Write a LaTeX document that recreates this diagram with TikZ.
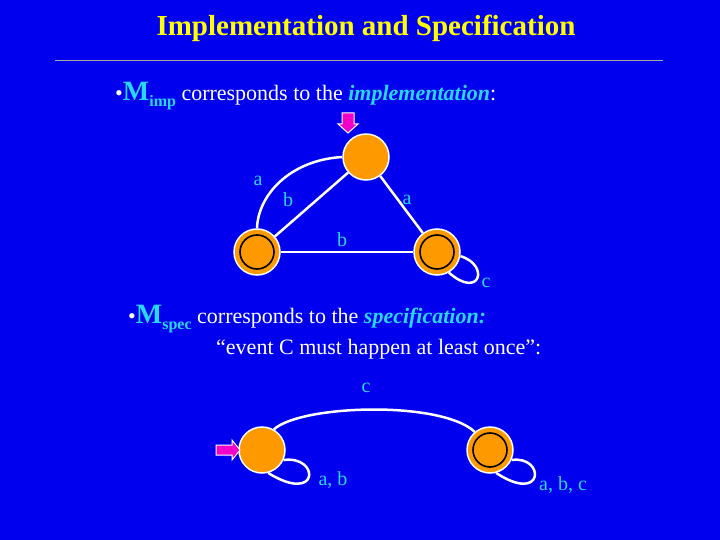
\documentclass[tikz,border=0pt]{standalone}
\usepackage{fontspec}
\setmainfont{Liberation Serif}
\definecolor{bg}{RGB}{0,0,238}
\definecolor{cy}{RGB}{40,215,255}
\definecolor{ttl}{RGB}{255,255,0}
\definecolor{st}{RGB}{255,153,0}
\definecolor{mag}{RGB}{240,0,200}
\begin{document}
\begin{tikzpicture}[x=1pt,y=-1pt,
  state/.style={circle,fill=st,draw=white,line width=1.5pt,minimum size=46pt,inner sep=0pt},
  acc/.style={state,path picture={\draw[black,line width=1.6pt] (path picture bounding box.center) circle (17pt);}},
  edge/.style={white,line width=2.5pt},
  lab/.style={text=cy,font=\fontsize{20}{22}\selectfont},
  txt/.style={text=white,font=\fontsize{22}{24}\selectfont,anchor=base west,inner sep=0pt},
  ini/.style={fill=mag,draw=white,line width=1pt}]
\fill[bg] (0,0) rectangle (720,540);
\useasboundingbox (0,0) rectangle (720,540);
\node[text=ttl,font=\bfseries\fontsize{29}{32}\selectfont] (title) at (366,28) {Implementation and Specification};
\draw[gray!70,line width=0.8pt] (55,60) -- (663,60);
\node[txt] (t1) at (115,101) {\textbullet\textcolor{cy}{\textbf{\fontsize{28}{30}\selectfont M}\raisebox{-6pt}{\textbf{\fontsize{16}{18}\selectfont imp}}} corresponds to the \textcolor{cy}{\textbf{\itshape implementation}}:};
\node[txt] (t2) at (128,323) {\textbullet\textcolor{cy}{\textbf{\fontsize{28}{30}\selectfont M}\raisebox{-6pt}{\textbf{\fontsize{16}{18}\selectfont spec}}} corresponds to the \textcolor{cy}{\textbf{\itshape specification:}}};
\node[txt] (t3) at (216,354) {“event C must happen at least once”:};
% top automaton
\node[state] (q0) at (366,157) {};
\node[acc] (q1) at (257,252) {};
\node[acc] (q2) at (437,252) {};
\draw[ini] (342,113) -- (354,113) -- (354,124) -- (358,124) -- (348,133) -- (338,124) -- (342,124) -- cycle;
\draw[edge] (q1.north) .. controls (258,195) and (290,160) .. (q0.west);
\draw[edge] (q1) -- (q0);
\draw[edge] (q0) -- (q2);
\draw[edge] (q1) -- (q2);
\draw[edge] (q2.-10) .. controls (490,265) and (480,300) .. (q2.-60);
\node[lab] (la1) at (258,181) {a};
\node[lab] (lb1) at (288,200) {b};
\node[lab] (la2) at (407,200) {a};
\node[lab] (lb2) at (342,240) {b};
\node[lab] (lc1) at (486,283) {c};
% bottom automaton
\node[state] (p0) at (262,450) {};
\node[acc] (p1) at (490,450) {};
\draw[ini] (216,445) -- (232,445) -- (232,440) -- (240,450) -- (232,460) -- (232,455) -- (216,455) -- cycle;
\draw[edge] (p0.60) .. controls (300,405) and (440,400) .. (p1.130);
\draw[edge] (p0.-25) .. controls (320,455) and (320,505) .. (p0.-75);
\draw[edge] (p1.-25) .. controls (545,455) and (545,505) .. (p1.-75);
\node[lab] (lc2) at (366,388) {c};
\node[lab] (lab1) at (333,480) {a, b};
\node[lab] (lab2) at (563,485) {a, b, c};
\end{tikzpicture}
\end{document}
